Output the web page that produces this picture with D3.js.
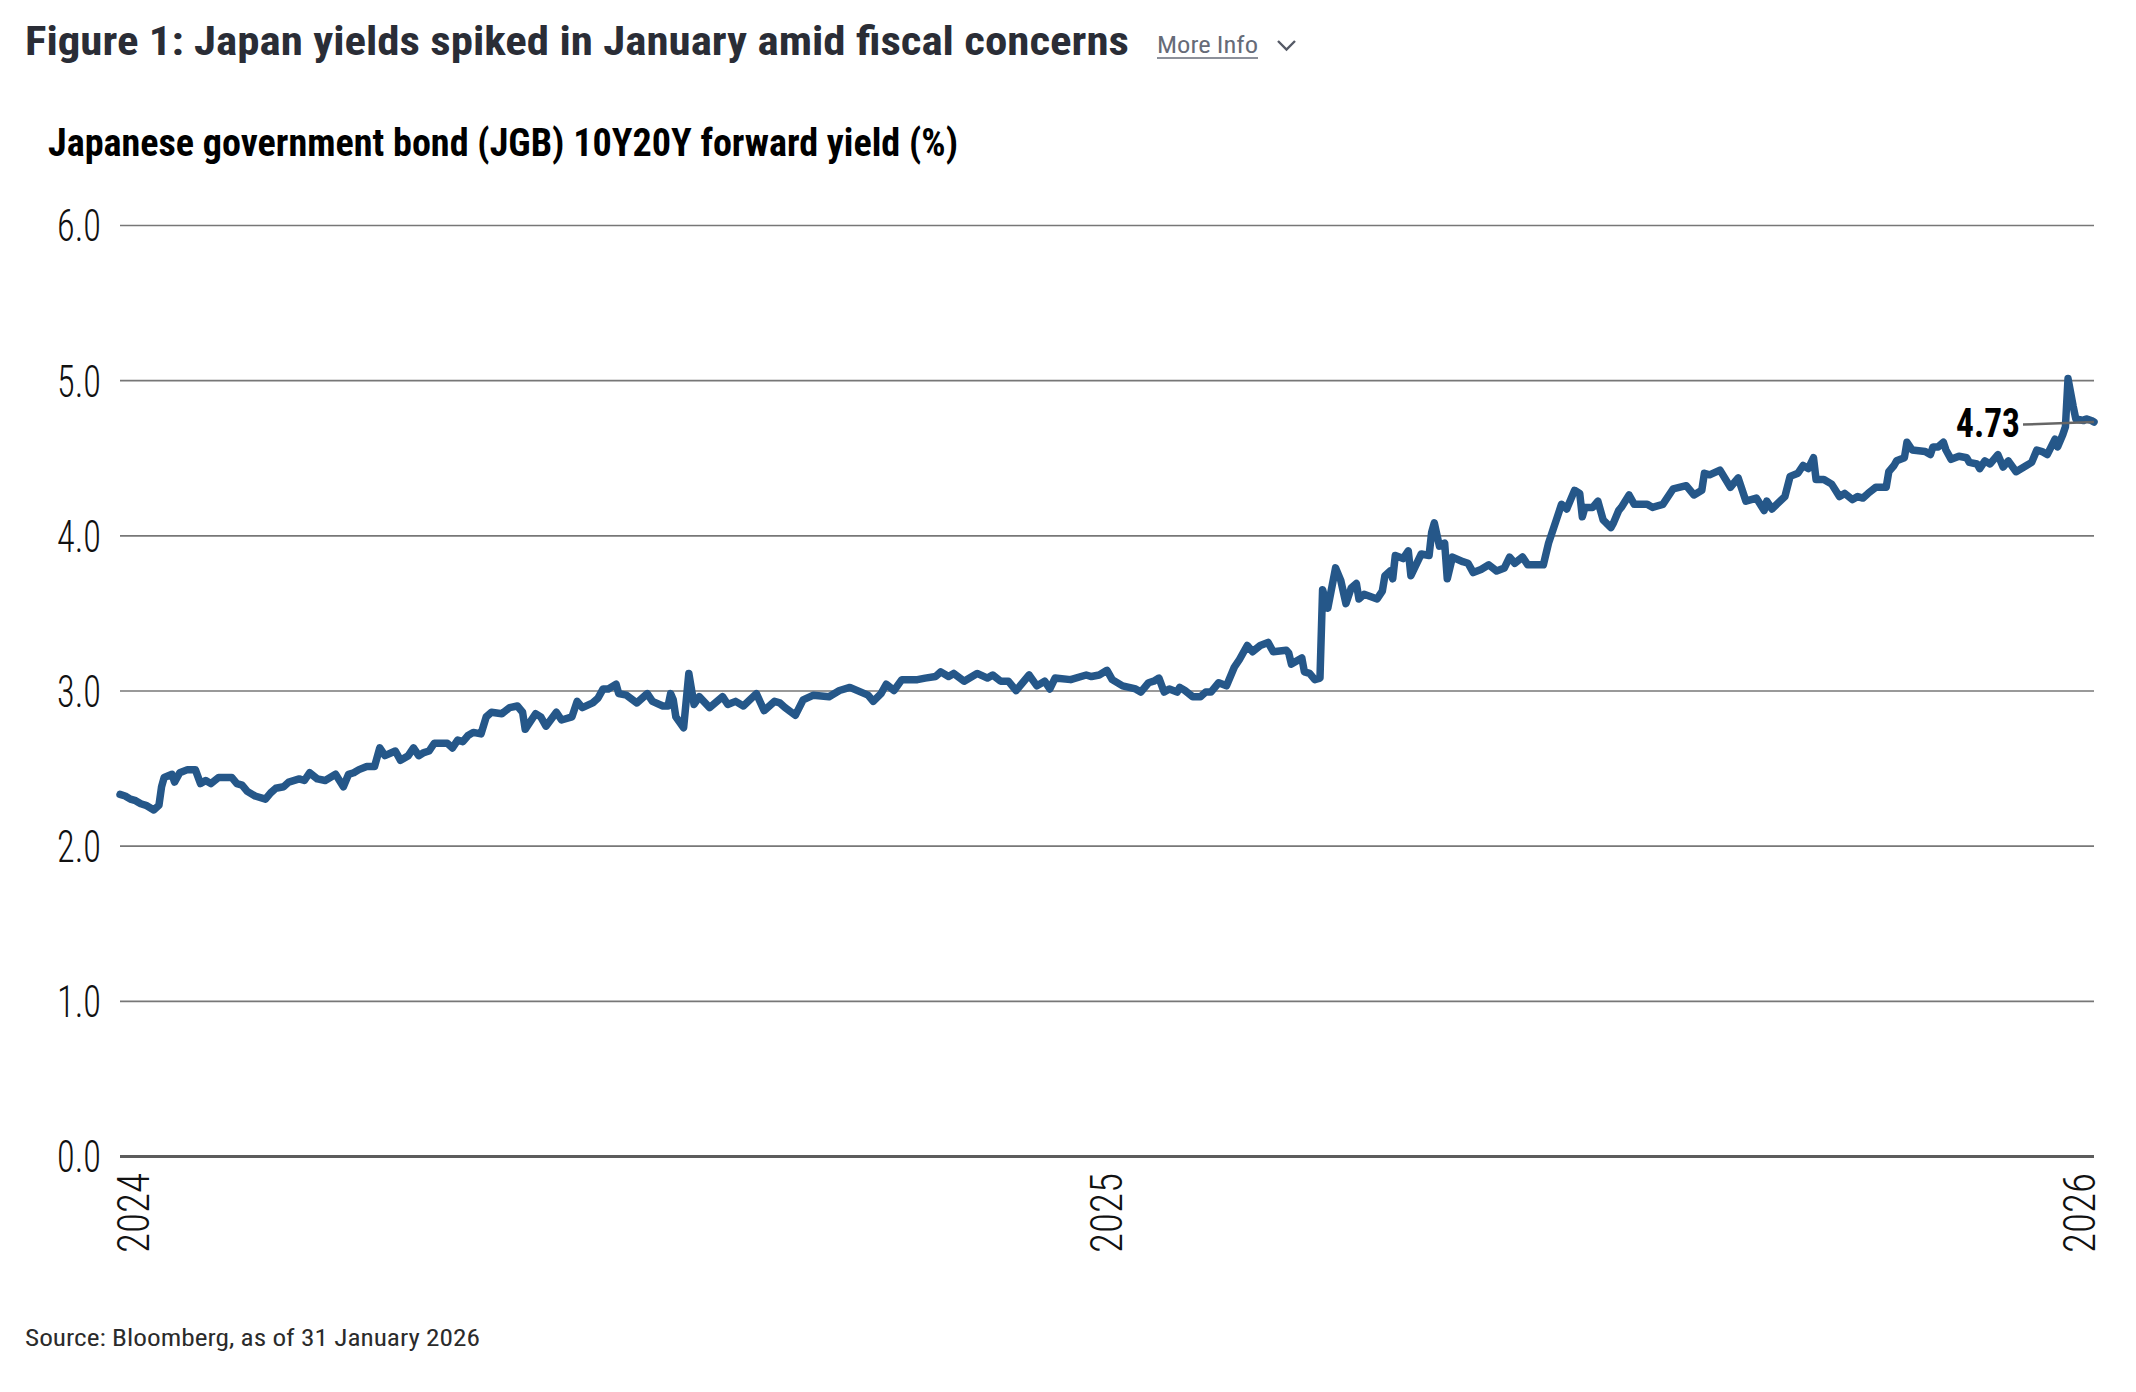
<!DOCTYPE html>
<html>
<head>
<meta charset="utf-8">
<script src="https://cdn.jsdelivr.net/npm/d3@7"></script>
<style>
body { margin: 0; background: #fff; }
text { font-family: "Roboto Condensed", "Roboto", sans-serif; }
</style>
</head>
<body>
<script>
// JGB 10Y20Y forward yield
const dates = [
  "2024-01-01","2024-01-03","2024-01-05","2024-01-07","2024-01-09","2024-01-11","2024-01-14","2024-01-16","2024-01-17","2024-01-18",
  "2024-01-21","2024-01-22","2024-01-24","2024-01-27","2024-01-30","2024-02-01","2024-02-03","2024-02-05","2024-02-08","2024-02-13",
  "2024-02-15","2024-02-17","2024-02-19","2024-02-22","2024-02-26","2024-02-28","2024-03-01","2024-03-04","2024-03-06","2024-03-10",
  "2024-03-12","2024-03-14","2024-03-17","2024-03-20","2024-03-24","2024-03-27","2024-03-29","2024-03-31","2024-04-02","2024-04-05",
  "2024-04-08","2024-04-10","2024-04-12","2024-04-16","2024-04-18","2024-04-21","2024-04-23","2024-04-25","2024-04-27","2024-04-29",
  "2024-05-01","2024-05-06","2024-05-08","2024-05-10","2024-05-12","2024-05-14","2024-05-16","2024-05-19","2024-05-21","2024-05-23",
  "2024-05-27","2024-05-30","2024-06-02","2024-06-04","2024-06-05","2024-06-09","2024-06-11","2024-06-13","2024-06-17","2024-06-19",
  "2024-06-23","2024-06-25","2024-06-27","2024-07-01","2024-07-03","2024-07-05","2024-07-07","2024-07-10","2024-07-11","2024-07-14",
  "2024-07-18","2024-07-22","2024-07-24","2024-07-28","2024-07-30","2024-07-31","2024-08-01","2024-08-02","2024-08-05","2024-08-07",
  "2024-08-09","2024-08-11","2024-08-15","2024-08-20","2024-08-22","2024-08-25","2024-08-28","2024-09-02","2024-09-05","2024-09-09",
  "2024-09-11","2024-09-13","2024-09-17","2024-09-20","2024-09-24","2024-09-30","2024-10-04","2024-10-08","2024-10-15","2024-10-17",
  "2024-10-20","2024-10-22","2024-10-25","2024-10-28","2024-11-03","2024-11-06","2024-11-10","2024-11-12","2024-11-15","2024-11-17",
  "2024-11-21","2024-11-26","2024-11-30","2024-12-02","2024-12-05","2024-12-08","2024-12-11","2024-12-16","2024-12-19","2024-12-22",
  "2024-12-24","2024-12-26","2025-01-01","2025-01-07","2025-01-09","2025-01-12","2025-01-15","2025-01-17","2025-01-21","2025-01-26",
  "2025-01-28","2025-01-31","2025-02-02","2025-02-04","2025-02-06","2025-02-08","2025-02-11","2025-02-12","2025-02-14","2025-02-17",
  "2025-02-20","2025-02-22","2025-02-24","2025-02-27","2025-03-02","2025-03-05","2025-03-07","2025-03-10","2025-03-12","2025-03-15",
  "2025-03-18","2025-03-20","2025-03-25","2025-03-26","2025-03-27","2025-03-29","2025-03-31","2025-04-01","2025-04-03","2025-04-05",
  "2025-04-07","2025-04-08","2025-04-10","2025-04-13","2025-04-15","2025-04-17","2025-04-19","2025-04-21","2025-04-22","2025-04-24",
  "2025-04-29","2025-05-01","2025-05-02","2025-05-04","2025-05-05","2025-05-06","2025-05-09","2025-05-11","2025-05-12","2025-05-16",
  "2025-05-19","2025-05-20","2025-05-21","2025-05-23","2025-05-25","2025-05-26","2025-05-28","2025-06-01","2025-06-03","2025-06-05",
  "2025-06-08","2025-06-11","2025-06-14","2025-06-17","2025-06-19","2025-06-21","2025-06-24","2025-06-26","2025-07-02","2025-07-04",
  "2025-07-07","2025-07-09","2025-07-11","2025-07-14","2025-07-16","2025-07-17","2025-07-18","2025-07-21","2025-07-23","2025-07-25",
  "2025-07-28","2025-07-29","2025-07-31","2025-08-01","2025-08-04","2025-08-06","2025-08-11","2025-08-13","2025-08-17","2025-08-21",
  "2025-08-26","2025-08-29","2025-09-01","2025-09-02","2025-09-04","2025-09-08","2025-09-12","2025-09-15","2025-09-18","2025-09-22",
  "2025-09-25","2025-09-26","2025-09-28","2025-10-03","2025-10-05","2025-10-08","2025-10-10","2025-10-12","2025-10-14","2025-10-15",
  "2025-10-18","2025-10-21","2025-10-24","2025-10-26","2025-10-29","2025-10-31","2025-11-02","2025-11-04","2025-11-07","2025-11-11",
  "2025-11-12","2025-11-14","2025-11-15","2025-11-18","2025-11-19","2025-11-21","2025-11-26","2025-11-28","2025-11-29","2025-12-01",
  "2025-12-03","2025-12-04","2025-12-06","2025-12-09","2025-12-12","2025-12-13","2025-12-16","2025-12-17","2025-12-19","2025-12-21",
  "2025-12-24","2025-12-26","2025-12-28","2025-12-31","2026-01-04","2026-01-06","2026-01-08","2026-01-10","2026-01-12","2026-01-15",
  "2026-01-16","2026-01-18","2026-01-19","2026-01-20","2026-01-22","2026-01-23","2026-01-26","2026-01-27","2026-01-29","2026-01-30"
];
const yields = [
  2.33,2.32,2.30,2.29,2.27,2.26,2.23,2.26,2.38,2.44,
  2.46,2.41,2.47,2.49,2.49,2.40,2.42,2.40,2.44,2.44,
  2.40,2.39,2.35,2.32,2.30,2.34,2.37,2.38,2.41,2.43,
  2.42,2.47,2.43,2.42,2.46,2.38,2.46,2.47,2.49,2.51,
  2.51,2.63,2.58,2.61,2.55,2.58,2.63,2.58,2.60,2.61,
  2.66,2.66,2.63,2.68,2.67,2.71,2.73,2.72,2.83,2.86,
  2.85,2.89,2.90,2.86,2.75,2.85,2.83,2.77,2.86,2.81,
  2.83,2.93,2.89,2.92,2.95,3.01,3.01,3.04,2.98,2.97,
  2.92,2.98,2.93,2.90,2.90,2.98,2.94,2.83,2.76,3.11,
  2.91,2.96,2.89,2.96,2.91,2.93,2.90,2.98,2.87,2.93,
  2.92,2.89,2.84,2.94,2.97,2.96,3.00,3.02,2.97,2.93,
  2.98,3.04,3.00,3.07,3.07,3.08,3.09,3.12,3.09,3.11,
  3.06,3.11,3.08,3.10,3.06,3.06,3.00,3.10,3.03,3.06,
  3.01,3.08,3.07,3.10,3.09,3.10,3.13,3.07,3.03,3.01,
  2.99,3.05,3.06,3.08,2.99,3.01,2.99,3.02,3.00,2.96,
  2.96,2.99,2.99,3.05,3.03,3.15,3.20,3.29,3.25,3.29,
  3.31,3.25,3.26,3.24,3.17,3.19,3.21,3.12,3.11,3.07,
  3.08,3.65,3.53,3.79,3.71,3.56,3.66,3.69,3.59,3.62,
  3.59,3.64,3.74,3.77,3.72,3.87,3.85,3.90,3.74,3.88,
  3.87,4.02,4.08,3.93,3.95,3.72,3.86,3.83,3.82,3.76,
  3.78,3.81,3.77,3.79,3.86,3.82,3.86,3.81,3.81,3.95,
  4.10,4.20,4.17,4.29,4.27,4.12,4.18,4.18,4.22,4.10,
  4.05,4.08,4.16,4.18,4.26,4.20,4.20,4.18,4.20,4.30,
  4.32,4.26,4.29,4.40,4.39,4.42,4.31,4.37,4.22,4.24,
  4.16,4.22,4.17,4.25,4.38,4.40,4.45,4.43,4.50,4.36,
  4.36,4.33,4.25,4.27,4.23,4.25,4.24,4.27,4.31,4.31,
  4.41,4.45,4.48,4.50,4.60,4.55,4.54,4.52,4.57,4.57,
  4.60,4.55,4.49,4.51,4.50,4.47,4.46,4.43,4.48,4.46,
  4.52,4.44,4.48,4.41,4.45,4.47,4.55,4.54,4.52,4.62,
  4.57,4.65,4.70,5.01,4.83,4.75,4.74,4.75,4.74,4.73
];
const yTicks = [0, 1, 2, 3, 4, 5, 6];
const yearLabels = ["2024", "2025", "2026"];
const lastLabel = "4.73";

const title = "Figure 1: Japan yields spiked in January amid fiscal concerns";
const subtitle = "Japanese government bond (JGB) 10Y20Y forward yield (%)";
const source = "Source: Bloomberg, as of 31 January 2026";

const W = 2136, H = 1392;
const plotLeft = 120, plotRight = 2094, plotTop = 225, plotBottom = 1156;

const svg = d3.select(document.body).append("svg")
  .attr("width", W)
  .attr("height", H);
svg.append("rect").attr("width", W).attr("height", H).attr("fill", "#fff");

const parse = d3.utcParse("%Y-%m-%d");
const data = dates.map((d, i) => ({ date: parse(d), value: yields[i] }));

const x = d3.scaleUtc().domain(d3.extent(data, d => d.date)).range([plotLeft, plotRight]);
const y = d3.scaleLinear().domain([0, 6]).range([plotBottom, plotTop]);
const xl = d3.scalePoint().domain(yearLabels).range([133, 2079]);

// header
svg.append("text")
  .attr("x", 25).attr("y", 55)
  .attr("font-size", 40).attr("font-weight", 700).attr("fill", "#2a2d36")
  .attr("textLength", 1104).attr("lengthAdjust", "spacingAndGlyphs")
  .text(title);

svg.append("text")
  .attr("x", 1157).attr("y", 53)
  .attr("font-size", 24).attr("fill", "#666b78")
  .attr("textLength", 101).attr("lengthAdjust", "spacingAndGlyphs")
  .text("More Info");
svg.append("line")
  .attr("x1", 1157).attr("x2", 1258).attr("y1", 58).attr("y2", 58)
  .attr("stroke", "#666b78").attr("stroke-width", 1.5);
svg.append("polyline")
  .attr("points", "1278,41 1286.5,49.5 1295,41")
  .attr("fill", "none").attr("stroke", "#555a66").attr("stroke-width", 2.4);

svg.append("text")
  .attr("x", 48).attr("y", 156)
  .attr("font-size", 39).attr("font-weight", 700).attr("fill", "#000")
  .attr("textLength", 910).attr("lengthAdjust", "spacingAndGlyphs")
  .text(subtitle);

// y axis + gridlines
const ya = svg.append("g")
  .attr("transform", `translate(${plotLeft},0)`)
  .call(d3.axisLeft(y).tickValues(yTicks).tickSize(-(plotRight - plotLeft)).tickFormat(d3.format(".1f")));
ya.select(".domain").remove();
ya.selectAll(".tick line").attr("stroke", "#777").attr("stroke-width", 1.7);
ya.selectAll(".tick").filter(d => d === 0).select("line")
  .attr("stroke", "#5c5c5c").attr("stroke-width", 3.2);
ya.selectAll(".tick text")
  .attr("x", -19).attr("dy", "0.36em")
  .attr("font-size", 44).attr("font-weight", 300).attr("fill", "#111")
  .attr("font-family", "'Roboto Condensed', Roboto, sans-serif")
  .attr("textLength", 44).attr("lengthAdjust", "spacingAndGlyphs");

// x labels, rotated
const xa = svg.append("g")
  .attr("transform", "translate(0,1173)")
  .call(d3.axisBottom(xl).tickSize(0));
xa.select(".domain").remove();
xa.selectAll(".tick text")
  .attr("x", 0).attr("y", 0).attr("dy", "0.36em")
  .attr("transform", "rotate(-90)")
  .attr("text-anchor", "end")
  .attr("font-size", 44).attr("font-weight", 300).attr("fill", "#111")
  .attr("font-family", "'Roboto Condensed', Roboto, sans-serif")
  .attr("textLength", 80).attr("lengthAdjust", "spacingAndGlyphs");

// series
const line = d3.line().x(d => x(d.date)).y(d => y(d.value));
svg.append("path")
  .datum(data)
  .attr("d", line)
  .attr("fill", "none")
  .attr("stroke", "#255789")
  .attr("stroke-width", 7.5)
  .attr("stroke-linejoin", "round")
  .attr("stroke-linecap", "round");

// last value label
const last = data[data.length - 1];
svg.append("line")
  .attr("x1", x(last.date) - 71).attr("y1", y(last.value) + 2.5)
  .attr("x2", x(last.date)).attr("y2", y(last.value))
  .attr("stroke", "#666").attr("stroke-width", 2.4);
svg.append("text")
  .attr("x", x(last.date) - 74).attr("y", y(last.value) + 15)
  .attr("text-anchor", "end")
  .attr("font-size", 40).attr("font-weight", 700).attr("fill", "#000")
  .attr("textLength", 64).attr("lengthAdjust", "spacingAndGlyphs")
  .text(lastLabel);

// source
svg.append("text")
  .attr("x", 25).attr("y", 1346)
  .attr("font-size", 24).attr("fill", "#2b2b2b")
  .attr("textLength", 455).attr("lengthAdjust", "spacingAndGlyphs")
  .text(source);
</script>
</body>
</html>
